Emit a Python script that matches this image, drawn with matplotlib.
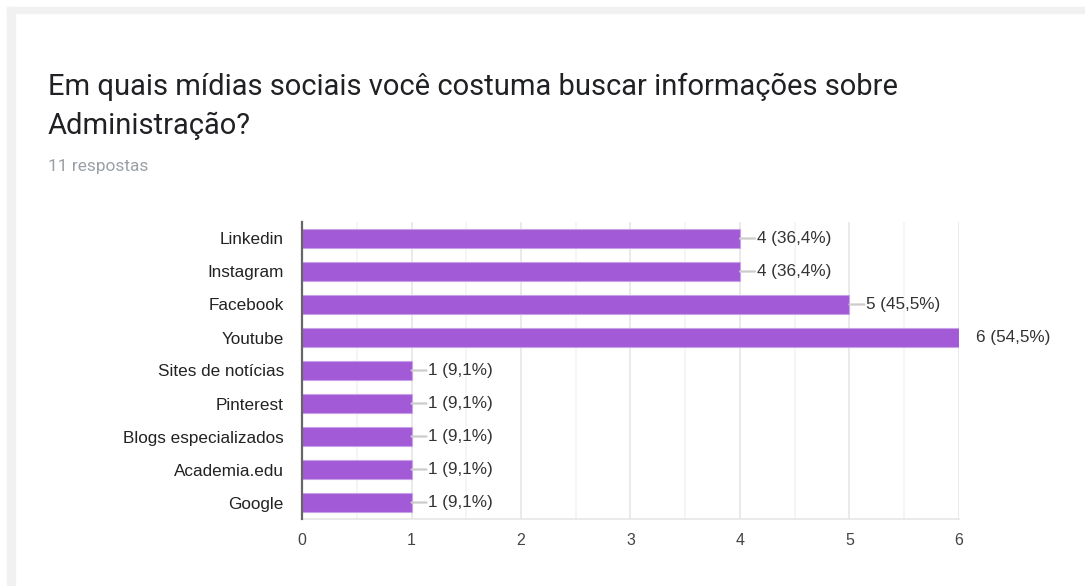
"""Bar chart: midias sociais usadas para buscar informacoes sobre Administracao
"""
import matplotlib.pyplot as plt
from matplotlib.patches import Rectangle
from matplotlib.ticker import MultipleLocator

################################################################################
categories = ["Linkedin", "Instagram", "Facebook", "Youtube", "Sites de notícias",
              "Pinterest", "Blogs especializados", "Academia.edu", "Google"]
counts = [4, 4, 5, 6, 1, 1, 1, 1, 1]
percents = ["36,4%", "36,4%", "45,5%", "54,5%", "9,1%", "9,1%", "9,1%", "9,1%", "9,1%"]
total = 11
title = "Em quais mídias sociais você costuma buscar informações sobre\nAdministração?"
################################################################################

bar_color = "#a25ad6"

fig = plt.figure(figsize=(10.85, 5.86), dpi=100)

# card frame (gray bands at top and left)
fig.patches.append(Rectangle((7 / 1085, 0), 8 / 1085, 1 - 7 / 586, transform=fig.transFigure,
                             color="#f1f1f1", zorder=0))
fig.patches.append(Rectangle((7 / 1085, 1 - 13 / 586), 1, 6 / 586, transform=fig.transFigure,
                             color="#f1f1f1", zorder=0))

fig.text(48 / 1085, 1 - 73 / 586, title, fontsize=21, family="Roboto", color="#202124",
         va="top", ha="left", linespacing=1.45)
fig.text(48 / 1085, 1 - 166 / 586, f"{total} respostas", fontsize=12.5, family="Roboto",
         color="#9aa0a6", va="center", ha="left")

ax = fig.add_axes([302 / 1085, 1 - 519 / 586, 657 / 1085, 297 / 586])

y = list(range(len(categories)))
ax.barh(y, counts, height=0.6, color=bar_color, edgecolor="#c7a2e6", linewidth=0.8, zorder=3)

ax.set_xlim(0, 6)
ax.set_ylim(len(categories) - 0.5, -0.5)
ax.set_yticks(y)
ax.set_yticklabels(categories, family="Liberation Sans", fontsize=12.3, color="#222222")
ax.xaxis.set_major_locator(MultipleLocator(1))
ax.xaxis.set_minor_locator(MultipleLocator(0.5))
for lab in ax.get_xticklabels():
    lab.set_family("Liberation Sans")
ax.tick_params(axis="x", which="both", length=0, pad=10, labelsize=11.5, labelcolor="#444444")
ax.tick_params(axis="y", length=0, pad=13)

ax.grid(axis="x", which="major", color="#e6e6e6", linewidth=1.2, zorder=0)
ax.grid(axis="x", which="minor", color="#f3f3f3", linewidth=1.2, zorder=0)
ax.set_axisbelow(True)

for s in ["top", "right"]:
    ax.spines[s].set_visible(False)
ax.spines["left"].set_color("#666666")
ax.spines["left"].set_linewidth(1.6)
ax.spines["left"].set_zorder(4)
ax.spines["bottom"].set_color("#e6e6e6")
ax.spines["bottom"].set_linewidth(1.2)

# value labels with leader lines
top = max(counts)
for i, (c, p) in enumerate(zip(counts, percents)):
    if c < top:
        ax.annotate("", xy=(c, i), xytext=(15, 0), textcoords="offset pixels",
                    arrowprops=dict(arrowstyle="-", color="#cccccc", lw=1.6,
                                    shrinkA=0, shrinkB=0), annotation_clip=False)
    ax.annotate(f"{c} ({p})", xy=(c, i), xytext=(17, 0), textcoords="offset pixels",
                va="center", ha="left", fontsize=12.3, family="Liberation Sans",
                color="#333333", annotation_clip=False)

fig.savefig("out.png", dpi=100)
